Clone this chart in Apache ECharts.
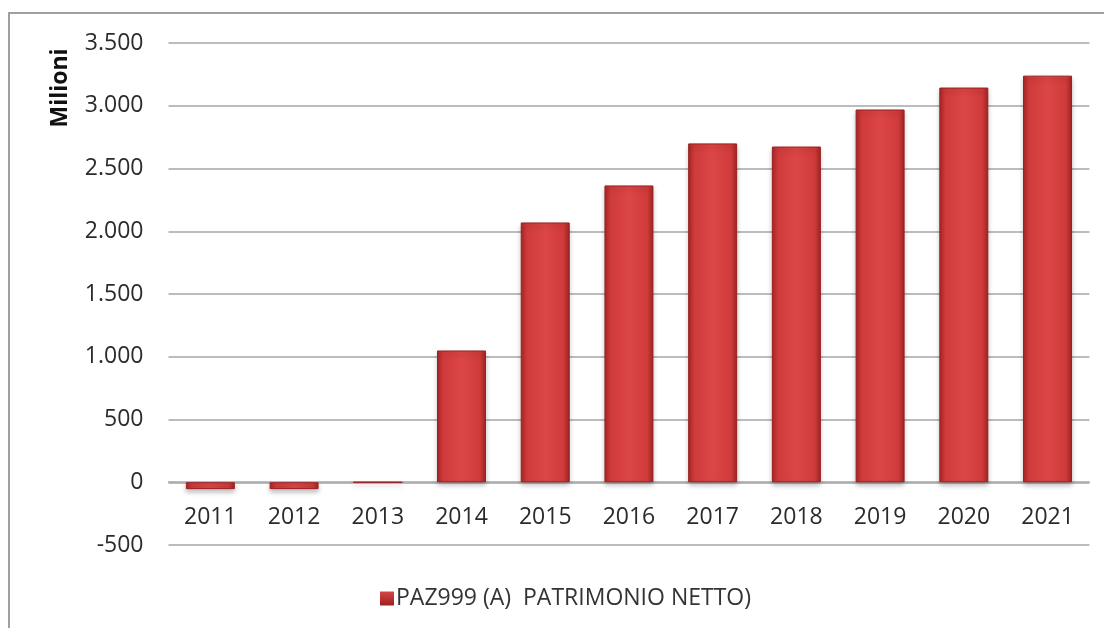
<!DOCTYPE html>
<html>
<head>
<meta charset="utf-8">
<script src="https://cdn.jsdelivr.net/npm/echarts@6/dist/echarts.min.js"></script>
<style>
  html, body { margin: 0; padding: 0; background: #fff; }
  #chart { width: 1104px; height: 628px; }
</style>
</head>
<body>
<div id="chart"></div>
<script>
// dati (milioni)
const anni = ["2011", "2012", "2013", "2014", "2015", "2016", "2017", "2018", "2019", "2020", "2021"];
const patrimonio = [-55, -55, 0, 1050, 2070, 2365, 2700, 2675, 2970, 3145, 3240];
const nomeSerie = "PAZ999 (A)  PATRIMONIO NETTO)";
const yMin = -500;
const yMax = 3500;
const yStep = 500;

const font = "'Open Sans', 'Liberation Sans', sans-serif";

// gradiente orizzontale per l'effetto "cilindro" delle barre
const barColor = new echarts.graphic.LinearGradient(0, 0, 1, 0, [
  { offset: 0, color: "#a82626" },
  { offset: 0.12, color: "#cf3a3a" },
  { offset: 0.5, color: "#dc4646" },
  { offset: 0.88, color: "#cf3a3a" },
  { offset: 1, color: "#a22424" },
]);

// separatore delle migliaia all'italiana: 3.500
function formatIt(v) {
  const s = String(Math.abs(v)).replace(/\B(?=(\d{3})+(?!\d))/g, ".");
  return (v < 0 ? "-" : "") + s;
}

let myChart = echarts.init(document.getElementById("chart"));
myChart.setOption({
  animation: false,
  textStyle: { fontFamily: font },
  grid: {
    left: 168.5,
    right: 14.6,
    top: 43,
    bottom: 83,
  },
  // cornice grigia dell'immagine originale
  graphic: [
    {
      type: "rect",
      shape: { x: 9, y: 13, width: 1200, height: 700 },
      style: { fill: "none", stroke: "#a0a0a0", lineWidth: 2 },
      silent: true,
    },
    {
      type: "text",
      x: 60,
      y: 88,
      rotation: Math.PI / 2,
      style: {
        text: "Milioni",
        fontFamily: font,
        fontSize: 23,
        fontWeight: "bold",
        fill: "#111",
        align: "center",
        verticalAlign: "middle",
      },
    },
  ],
  legend: {
    data: [nomeSerie],
    left: 375,
    top: 582,
    icon: "rect",
    itemWidth: 14,
    itemHeight: 14,
    itemGap: 10,
    itemStyle: {
      borderWidth: 0,
      color: new echarts.graphic.LinearGradient(0, 0, 0, 1, [
        { offset: 0, color: "#d84444" },
        { offset: 1, color: "#9c2020" },
      ]),
    },
    textStyle: {
      fontFamily: font,
      fontSize: 23,
      color: "#333",
      padding: [0, 0, 0, -3],
    },
  },
  xAxis: {
    type: "category",
    data: anni,
    // asse spostato sullo zero (le etichette stanno sotto lo zero)
    offset: -63,
    axisLine: {
      onZero: false,
      lineStyle: { color: "#a6a6a6", width: 1.5 },
    },
    axisTick: { show: false },
    axisLabel: {
      color: "#2b2b2b",
      fontSize: 23,
      margin: 24,
    },
  },
  yAxis: {
    type: "value",
    min: yMin,
    max: yMax,
    interval: yStep,
    axisLine: { show: false },
    axisTick: { show: false },
    axisLabel: {
      color: "#2b2b2b",
      fontSize: 23,
      margin: 25,
      formatter: formatIt,
    },
    splitLine: {
      lineStyle: { color: "#a6a6a6", width: 1.5 },
    },
  },
  series: [
    {
      name: nomeSerie,
      type: "bar",
      data: patrimonio,
      barWidth: 49,
      itemStyle: {
        color: barColor,
        borderColor: "#9a2020",
        borderWidth: 1,
        shadowBlur: 5,
        shadowColor: "rgba(0,0,0,0.25)",
        shadowOffsetY: 3,
      },
    },
  ],
});
</script>
</body>
</html>
